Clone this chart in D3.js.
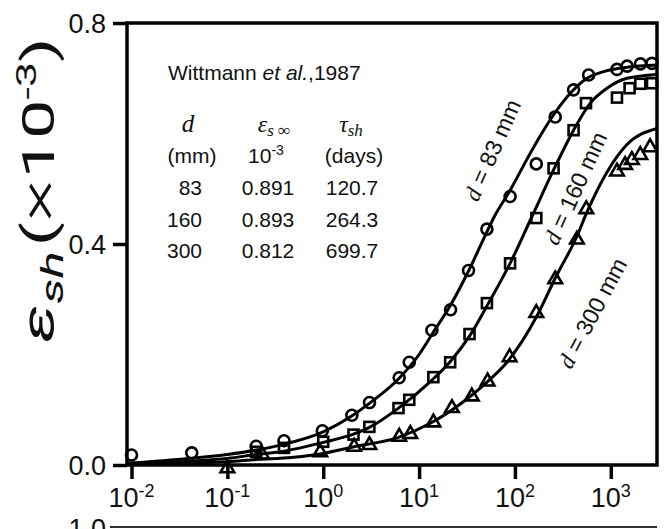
<!DOCTYPE html>
<meta charset='utf-8'>
<style>
  body { margin: 0; background: #fff; }
  text { font-family: 'Liberation Sans', Arial, sans-serif; fill: #111; }
  .fit { fill: none; stroke: #000; stroke-width: 3px; }
  .mk { fill: none; stroke: #000; stroke-width: 2.6px; }
  .tick line { stroke: #000; stroke-width: 3.5px; }
</style>
<body>
<script src='https://d3js.org/d3.v7.min.js'></script>
<script>
// measured points [t (days), eps_sh x1e-3]
var pts83 = [[0.01,0.018],[0.0425,0.022],[0.2,0.034],[0.39,0.044],[0.98,0.062],[1.99,0.090],[3.04,0.113],
  [6.2,0.158],[7.9,0.186],[13.6,0.244],[21.3,0.281],[32.8,0.352],[51,0.427],[89,0.486],[167,0.545],
  [263,0.630],[409,0.679],[587,0.706],[1160,0.716],[1480,0.722],[2040,0.726],[2690,0.727]];
var pts160 = [[0.2,0.024],[0.39,0.031],[1.0,0.042],[2.07,0.055],[3.03,0.069],[6.1,0.103],[7.9,0.118],
  [14.1,0.159],[21.1,0.186],[33.6,0.237],[51,0.293],[89,0.365],[167,0.447],[253,0.537],[409,0.606],
  [551,0.655],[1160,0.665],[1570,0.682],[2030,0.690],[2690,0.691]];
var pts300 = [[0.1,-0.006],[0.23,0.019],[0.93,0.023],[2.1,0.033],[3.03,0.036],[6.2,0.051],[8.1,0.056],
  [14.1,0.077],[22,0.103],[35.5,0.124],[51.8,0.151],[88,0.195],[167,0.275],[263,0.336],[443,0.408],
  [555,0.463],[1160,0.531],[1410,0.543],[1660,0.552],[2030,0.561],[2570,0.575]];

// fitted curves
var fit83 = [[0.009,0.003],[0.04,0.012],[0.1,0.019],[0.2,0.027],[0.355,0.036],[1,0.060],[2,0.089],[3,0.111],
  [6.2,0.157],[10,0.200],[13.8,0.238],[21.4,0.290],[33,0.352],[51,0.422],[62,0.452],[89,0.497],[135,0.555],
  [184,0.596],[263,0.638],[393,0.676],[565,0.700],[842,0.712],[1476,0.720],[3035,0.724]];
var fit160 = [[0.009,0.003],[0.1,0.012],[0.2,0.019],[0.355,0.024],[1,0.041],[2.07,0.056],[3.03,0.068],
  [6.1,0.103],[13.1,0.151],[21.1,0.187],[34.1,0.235],[53,0.293],[89,0.365],[144.5,0.443],[253,0.534],
  [409,0.606],[611,0.655],[912,0.682],[1476,0.700],[3035,0.707]];
var fit300 = [[0.009,0.002],[0.1,0.006],[0.2,0.010],[0.355,0.012],[0.93,0.020],[2.1,0.033],[6.1,0.050],
  [13.1,0.0755],[34.1,0.124],[51.8,0.151],[82.6,0.186],[170,0.270],[263,0.338],[443,0.414],[565,0.458],
  [912,0.530],[1476,0.580],[3035,0.609]];

var xTicks = [1e-2, 1e-1, 1e0, 1e1, 1e2, 1e3];
var xTickExp = ['-2', '-1', '0', '1', '2', '3'];
var yTicks = [0, 0.4, 0.8];

var tableRows = [['83', '0.891', '120.7'], ['160', '0.893', '264.3'], ['300', '0.812', '699.7']];
// [d, t, eps, angle] of each curve label's centre
var curveLabels = [['83', 58, 0.57, -66], ['160', 426, 0.501, -65.5], ['300', 641, 0.275, -62]];

var W = 666, H = 529;
var pL = 127, pR = 657, pT = 23, pB = 465;

var svg = d3.select('body').append('svg')
  .attr('width', W).attr('height', H);

var x = d3.scaleLog().domain([Math.pow(10, -2.047), Math.pow(10, 3.482)]).range([pL, pR]);
var y = d3.scaleLinear().domain([0, 0.8]).range([pB, pT]);

// piece of the next panel peeking in at the bottom
svg.append('line')
  .attr('x1', 110).attr('x2', pR).attr('y1', 527).attr('y2', 527)
  .attr('stroke', '#333').attr('stroke-width', 2);
svg.append('text')
  .attr('x', 106).attr('y', 538)
  .attr('text-anchor', 'end')
  .style('font-size', '27px')
  .text('1.0');

// axes (ticks only, frame drawn separately)
var xa = svg.append('g')
  .attr('transform', 'translate(0,' + pB + ')')
  .call(d3.axisBottom(x).tickValues(xTicks).tickSize(14).tickFormat(''));
xa.select('.domain').remove();

var ya = svg.append('g')
  .attr('transform', 'translate(' + pL + ',0)')
  .call(d3.axisLeft(y).tickValues(yTicks).tickSize(14).tickFormat(''));
ya.select('.domain').remove();

svg.append('rect')
  .attr('x', pL).attr('y', pT)
  .attr('width', pR - pL).attr('height', pB - pT)
  .attr('fill', 'none').attr('stroke', '#000').attr('stroke-width', 3.5);

// x tick labels 10^n
xTicks.forEach(function(t, i) {
  var tx = svg.append('text')
    .attr('x', x(t)).attr('y', 507)
    .attr('text-anchor', 'middle')
    .style('font-size', '27px');
  tx.append('tspan').text('10');
  tx.append('tspan').attr('dy', -10).style('font-size', '18px').text(xTickExp[i]);
});

// y tick labels
yTicks.forEach(function(v) {
  svg.append('text')
    .attr('x', 106).attr('y', y(v))
    .attr('dy', '0.36em')
    .attr('text-anchor', 'end')
    .style('font-size', '27px')
    .text(d3.format('.1f')(v));
});

// y axis title (stretched along its length like the original)
var yt = svg.append('text')
  .attr('transform', 'translate(54,190) rotate(-90) scale(1.6,1)')
  .attr('text-anchor', 'middle')
  .style('font-family', 'Roboto, sans-serif')
  .style('font-weight', '400');
yt.append('tspan').style('font-size', '46px').style('font-style', 'italic').text('ε');
yt.append('tspan').attr('dy', 9).style('font-size', '32px').style('font-style', 'italic').text('sh');
yt.append('tspan').attr('dy', -9).attr('dx', 3).style('font-size', '44px').text('(');
yt.append('tspan').style('font-size', '52px').style('font-weight', '300').text('×');
yt.append('tspan').style('font-size', '44px').text('10');
yt.append('tspan').attr('dy', -18).style('font-size', '28px').text('-3');
yt.append('tspan').attr('dy', 18).style('font-size', '44px').text(')');

// fitted lines
var line = d3.line()
  .x(function(d) { return x(d[0]); })
  .y(function(d) { return y(d[1]); })
  .curve(d3.curveMonotoneX);

[fit83, fit160, fit300].forEach(function(f) {
  svg.append('path').datum(f).attr('class', 'fit').attr('d', line);
});

// markers
svg.selectAll('.c83').data(pts83).enter().append('circle')
  .attr('class', 'mk')
  .attr('cx', function(d) { return x(d[0]); })
  .attr('cy', function(d) { return y(d[1]); })
  .attr('r', 5.5);

svg.selectAll('.s160').data(pts160).enter().append('rect')
  .attr('class', 'mk')
  .attr('x', function(d) { return x(d[0]) - 5; })
  .attr('y', function(d) { return y(d[1]) - 5; })
  .attr('width', 10).attr('height', 10);

svg.selectAll('.t300').data(pts300).enter().append('path')
  .attr('class', 'mk')
  .attr('transform', function(d) { return 'translate(' + x(d[0]) + ',' + y(d[1]) + ')'; })
  .attr('d', d3.symbol(d3.symbolTriangle, 80));

// curve labels
curveLabels.forEach(function(c) {
  var t = svg.append('text')
    .attr('transform', 'translate(' + x(c[1]) + ',' + y(c[2]) + ') rotate(' + c[3] + ')')
    .attr('text-anchor', 'middle')
    .attr('dy', '0.35em')
    .style('font-size', '23px');
  t.append('tspan').style('font-family', "'Liberation Serif', serif").style('font-style', 'italic').text('d');
  t.append('tspan').text(' = ' + c[0] + ' mm');
});

// source + parameter table
var src = svg.append('text').attr('x', 168).attr('y', 80).style('font-size', '21px');
src.append('tspan').text('Wittmann ');
src.append('tspan').style('font-style', 'italic').text('et al.');
src.append('tspan').text(',1987');

var serif = "'Liberation Serif', serif";
svg.append('text').attr('x', 188).attr('y', 132).attr('text-anchor', 'middle')
  .style('font-family', serif).style('font-style', 'italic').style('font-size', '25px').text('d');
var h2 = svg.append('text').attr('x', 274).attr('y', 132).attr('text-anchor', 'middle')
  .style('font-family', serif).style('font-style', 'italic');
h2.append('tspan').style('font-size', '24px').text('ε');
h2.append('tspan').attr('dy', 4).style('font-size', '17px').text('s ∞');
var h3 = svg.append('text').attr('x', 351).attr('y', 132).attr('text-anchor', 'middle')
  .style('font-family', serif).style('font-style', 'italic');
h3.append('tspan').style('font-size', '24px').text('τ');
h3.append('tspan').attr('dy', 4).style('font-size', '17px').text('sh');

svg.append('text').attr('x', 192).attr('y', 163).attr('text-anchor', 'middle')
  .style('font-size', '21px').text('(mm)');
var u2 = svg.append('text').attr('x', 266).attr('y', 163).attr('text-anchor', 'middle')
  .style('font-size', '21px');
u2.append('tspan').text('10');
u2.append('tspan').attr('dy', -8).style('font-size', '14px').text('-3');
svg.append('text').attr('x', 354).attr('y', 163).attr('text-anchor', 'middle')
  .style('font-size', '21px').text('(days)');

tableRows.forEach(function(r, i) {
  var by = 195 + i * 31.5;
  svg.append('text').attr('x', 202).attr('y', by).attr('text-anchor', 'end')
    .style('font-size', '21px').text(r[0]);
  svg.append('text').attr('x', 268).attr('y', by).attr('text-anchor', 'middle')
    .style('font-size', '21px').text(r[1]);
  svg.append('text').attr('x', 352).attr('y', by).attr('text-anchor', 'middle')
    .style('font-size', '21px').text(r[2]);
});
</script>
</body>
